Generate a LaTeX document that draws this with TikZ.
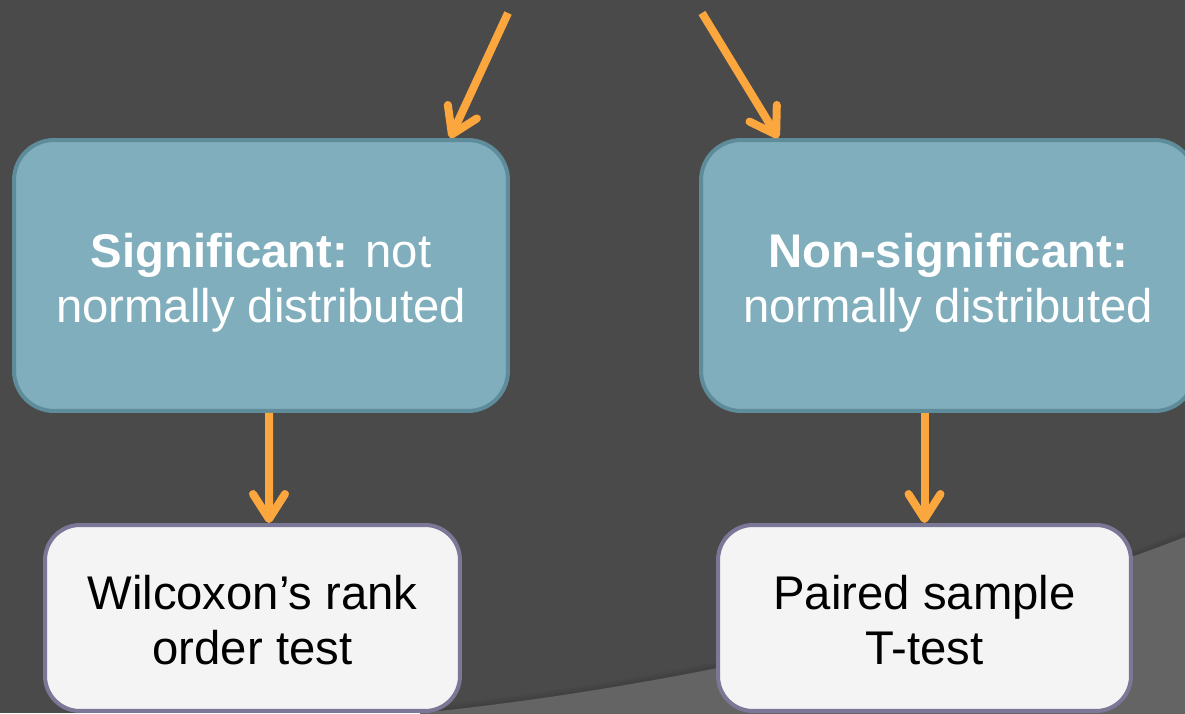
\documentclass[tikz,border=0pt]{standalone}
\usepackage{fontspec}
\setmainfont{Liberation Sans}
\usetikzlibrary{arrows.meta}

\definecolor{bgdark}{HTML}{4A4A4A}
\definecolor{bglight}{HTML}{646464}
\definecolor{tealfill}{HTML}{80AEBD}
\definecolor{tealline}{HTML}{5F8C9A}
\definecolor{cardfill}{HTML}{F4F4F4}
\definecolor{cardline}{HTML}{7B7796}
\definecolor{flow}{HTML}{FBA73D}

\tikzset{
  boxtext/.style={font=\fontsize{26.9pt}{31.2pt}\selectfont, align=center, inner sep=0pt},
  tealbox/.style={draw=tealline, fill=tealfill, line width=0.08cm,
    rounded corners=0.8cm, minimum width=9.88cm, minimum height=5.42cm},
  tealtext/.style={boxtext, text=white, yshift=-0.14cm},
  cardbox/.style={draw=cardline, fill=cardfill, line width=0.08cm,
    rounded corners=0.7cm, minimum height=3.72cm},
  cardtext/.style={boxtext, text=black, yshift=-0.05cm},
  flowarrow/.style={draw=flow, line width=0.16cm,
    -{Straight Barb[length=0.5cm, width=0.64cm, round]}},
}

\begin{document}
\begin{tikzpicture}[x=0.02cm, y=-0.02cm]
  \useasboundingbox (0,0) rectangle (1185,713);
  \clip (0,0) rectangle (1185,713);

  % backdrop with the lighter swoosh in the lower right
  \fill[bgdark] (0,0) rectangle (1185,713);
  \foreach \w in {0.24,0.16,0.08}
    \draw[black, opacity=0.04, line width=\w cm]
      (420,713) .. controls (700,685) and (1000,610) .. (1190,535);
  \fill[bglight] (420,713) .. controls (700,685) and (1000,610) .. (1190,535)
    -- (1190,720) -- (420,720) -- cycle;

  % decision boxes
  \node[tealbox, label={[tealtext]center:{\textbf{Significant:} not\\normally distributed}}]
    (sig) at (261,275.5) {};
  \node[tealbox, label={[tealtext]center:{\textbf{Non-significant:}\\normally distributed}}]
    (ns) at (948,275.5) {};

  % resulting tests
  \node[cardbox, minimum width=8.3cm, label={[cardtext]center:{Wilcoxon’s rank\\order test}}]
    (wil) at (252.5,618) {};
  \node[cardbox, minimum width=8.26cm, label={[cardtext]center:{Paired sample\\T-test}}]
    (pst) at (924.5,618) {};

  % incoming arrows from above
  \coordinate (inL) at (508,13);
  \coordinate (inR) at (702,13);
  \draw[flowarrow] (inL) -- (sig.36.8);
  \draw[flowarrow] (inR) -- (ns.141);

  % arrows down to the tests
  \draw[flowarrow] ([xshift=0.16cm]sig.south) -- ([xshift=0.33cm]wil.north);
  \draw[flowarrow] (ns.south -| pst.north) -- (pst.north);
\end{tikzpicture}
\end{document}
